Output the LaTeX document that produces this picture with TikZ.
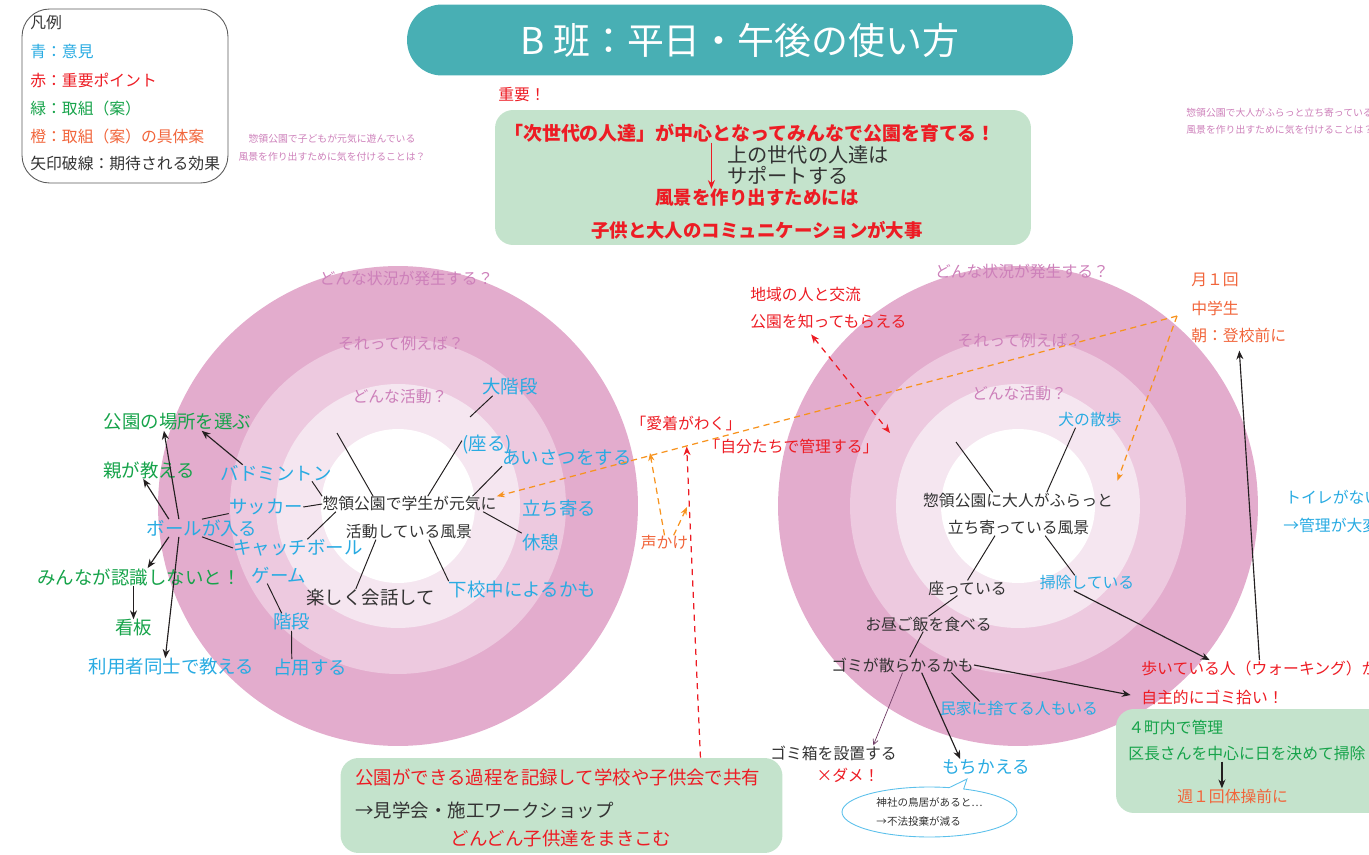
\documentclass[tikz,border=0pt]{standalone}
\usepackage{fontspec}
\setmainfont{Noto Sans CJK JP}
\usetikzlibrary{arrows.meta,shapes.callouts}

\definecolor{jblue}{RGB}{41,171,226}
\definecolor{jred}{RGB}{237,28,36}
\definecolor{jgreen}{RGB}{22,163,74}
\definecolor{jorange}{RGB}{241,101,59}
\definecolor{jdash}{RGB}{247,147,30}
\definecolor{jdark}{RGB}{51,51,51}
\definecolor{jpink}{RGB}{205,128,186}
\definecolor{jteal}{RGB}{72,175,180}
\definecolor{jbox}{RGB}{196,227,204}
\definecolor{ringA}{RGB}{227,172,205}
\definecolor{ringB}{RGB}{237,201,223}
\definecolor{ringC}{RGB}{245,230,240}
\definecolor{jline}{RGB}{35,31,32}
\definecolor{jplum}{RGB}{110,60,100}
\definecolor{jcall}{RGB}{91,192,235}
\definecolor{jgray}{RGB}{90,90,90}

\begin{document}
\begin{tikzpicture}[x=0.02cm, y=-0.02cm,
    nt/.style={inner sep=0pt, text=jdark, font=\fontsize{9}{11}\selectfont},
    bt/.style={inner sep=0pt, text=jdark, font=\fontsize{10.5}{13}\selectfont},
    sm/.style={inner sep=0pt, text=jpink, font=\fontsize{5.6}{7}\selectfont},
    pk/.style={inner sep=0pt, text=jpink, font=\fontsize{9}{11}\selectfont},
    spoke/.style={color=jline, line width=0.55pt},
    arr/.style={color=jline, line width=0.65pt, -{Stealth[length=5pt,width=4pt]}},
    parr/.style={color=jplum, line width=0.4pt, -{Straight Barb[length=3pt,width=3pt]}},
    odash/.style={color=jdash, line width=0.7pt, dash pattern=on 3.5pt off 2.5pt, -{Stealth[length=4.5pt,width=3.5pt]}},
    rdash/.style={color=jred, line width=0.7pt, dash pattern=on 3.5pt off 3pt, -{Stealth[length=5pt,width=4pt]}},
    gbox/.style={fill=jbox, rounded corners=0.36cm}
  ]
        \useasboundingbox (0,0) rectangle (1369,855);
        \clip (0,0) rectangle (1369,855);

        \foreach \cx in {398,1018} {
          \fill[ringA] (\cx,506) circle (4.8cm);
          \fill[ringB] (\cx,506) circle (3.36cm);
          \fill[ringC] (\cx,506) circle (2.44cm);
          \fill[white] (\cx,506) circle (1.54cm);
        }

        \node[fill=jteal, rounded corners=0.7cm, minimum width=13.32cm, minimum height=1.42cm, text=white, font=\fontsize{21}{24}\selectfont] at (740,40) (title) {B 班：平日・午後の使い方};

        \node[draw=jgray, line width=0.5pt, rounded corners=0.55cm, minimum width=4.12cm, minimum height=3.48cm] at (125,96) (legend) {};
        \node[nt, anchor=west]              at (30,23)  (lg0) {凡例};
        \node[nt, anchor=west, text=jblue]  at (30,52)  (lg1) {青：意見};
        \node[nt, anchor=west, text=jred]   at (30,80)  (lg2) {赤：重要ポイント};
        \node[nt, anchor=west, text=jgreen] at (30,108) (lg3) {緑：取組（案）};
        \node[nt, anchor=west, text=jorange] at (30,136) (lg4) {橙：取組（案）の具体案};
        \node[nt, anchor=west]              at (30,163) (lg5) {矢印破線：期待される効果};

        \node[sm]               at (332,139)  (noteL1) {惣領公園で子どもが元気に遊んでいる};
        \node[sm]               at (332,157)  (noteL2) {風景を作り出すために気を付けることは？};
        \node[sm, anchor=west]  at (1186,113) (noteR1) {惣領公園で大人がふらっと立ち寄っている};
        \node[sm, anchor=west]  at (1186,130) (noteR2) {風景を作り出すために気を付けることは？};

        \node[nt, text=jred, anchor=west] at (498,95) (juyo) {重要！};
        \node[gbox, minimum width=10.72cm, minimum height=2.7cm] at (763,177.5) (topbox) {};
        \node[bt, text=jred, font=\fontsize{10.8}{13}\selectfont\bfseries] at (750,133) (t1) {「次世代の人達」が中心となってみんなで公園を育てる！};
        \node[bt, anchor=west, font=\fontsize{11.5}{14}\selectfont] at (727,155) (t2) {上の世代の人達は};
        \node[bt, anchor=west, font=\fontsize{11.5}{14}\selectfont] at (727,175) (t3) {サポートする};
        \node[bt, text=jred, font=\fontsize{10.5}{13}\selectfont\bfseries] at (757,198) (t4) {風景を作り出すためには};
        \node[bt, text=jred, font=\fontsize{10.5}{13}\selectfont\bfseries] at (757,230) (t5) {子供と大人のコミュニケーションが大事};
        \draw[color=jred, line width=0.8pt, -{Stealth[length=5pt,width=4pt]}] (t1.194) -- (t1.194 |- t4.north);

        \node[pk] at (406.5,278)  (q1L) {どんな状況が発生する？};
        \node[pk] at (401,344)    (q2L) {それって例えば？};
        \node[pk] at (400,397)    (q3L) {どんな活動？};
        \node[pk] at (1022,271)   (q1R) {どんな状況が発生する？};
        \node[pk] at (1020.5,341) (q2R) {それって例えば？};
        \node[pk] at (1019.5,394) (q3R) {どんな活動？};

        \node[nt]               at (409.5,504) (ctrLa)   {惣領公園で学生が元気に};
        \node[nt]               at (409,532)   (ctrLb)   {活動している風景};
        \node[bt, text=jblue]   at (510,387)   (daikai)  {大階段};
        \node[bt, text=jblue]   at (487,445)   (suwaru)  {(座る)};
        \node[bt, text=jblue]   at (567,458)   (aisatsu) {あいさつをする};
        \node[bt, text=jblue]   at (559,508)   (tachi)   {立ち寄る};
        \node[bt, text=jblue]   at (540.5,542) (kyukei)  {休憩};
        \node[bt, text=jblue]   at (522.5,590) (gekou)   {下校中によるかも};
        \node[bt]               at (370.5,598) (tanoshi) {楽しく会話して};
        \node[bt, text=jblue]   at (276,473)   (badmin)  {バドミントン};
        \node[bt, text=jblue]   at (266,507)   (soccer)  {サッカー};
        \node[bt, text=jblue]   at (298,548)   (catch)   {キャッチボール};
        \node[bt, text=jblue]   at (279,575)   (game)    {ゲーム};
        \node[bt, text=jblue]   at (291.5,622) (kaidan)  {階段};
        \node[bt, text=jblue]   at (310,668)   (senyo)   {占用する};
        \node[bt, text=jblue]   at (202,528)   (ball)    {ボールが入る};
        \node[bt, text=jgreen]  at (177.5,422) (basho)   {公園の場所を選ぶ};
        \node[bt, text=jgreen]  at (149,470)   (oya)     {親が教える};
        \node[bt, text=jgreen]  at (139,577)   (minna)   {みんなが認識しないと！};
        \node[bt, text=jgreen]  at (133.5,628) (kanban)  {看板};
        \node[bt, text=jblue]   at (171.5,667) (riyou)   {利用者同士で教える};

        \coordinate (dangL) at (337,433);
        \coordinate (dkL)   at (470,417);
        \draw[spoke] (ctrLa.168) edge node {} (dangL);
        \draw[spoke] (ctrLa.23) edge node {} (suwaru.170);
        \draw[spoke] (daikai.207) edge node {} (dkL);
        \draw[spoke] (ctrLa.7) edge node {} (aisatsu.south west);
        \draw[spoke] (ctrLa.354) edge node {} (kyukei.north west);
        \draw[spoke] (ctrLb.339) edge node {} (gekou.north west);
        \draw[spoke] (ctrLb.193) edge node {} (tanoshi.149);
        \draw[spoke] (badmin.347) edge node {} (ctrLa.north west);
        \draw[spoke] (soccer.east) edge node {} (ctrLa.west);
        \draw[spoke] (catch.43) edge node {} (ctrLa.186);
        \draw[spoke] (game.216) edge node {} (kaidan.138);
        \draw[spoke] (kaidan.south) edge node {} (senyo.154);
        \draw[spoke] (soccer.190) edge node {} (ball.north);
        \draw[spoke] (catch.west) edge node {} (ball.south);

        \draw[arr] (ball.159) -- (basho.213);
        \draw[arr] (ball.165) -- (oya.237);
        \draw[arr] (ball.195) -- (minna.46);
        \draw[arr] (ball.201) -- (riyou.125);
        \draw[arr] (badmin.166) -- (basho.340);
        \draw[arr] (minna.south -| kanban.north) -- (kanban.north);

        \node[nt]               at (1018,500)   (ctrRa)    {惣領公園に大人がふらっと};
        \node[nt]               at (1018.5,528) (ctrRb)    {立ち寄っている風景};
        \node[nt, text=jblue]   at (1090,420)   (inu)      {犬の散歩};
        \node[nt]               at (967.5,588)  (suwatte)  {座っている};
        \node[nt, text=jblue]   at (1087,583)   (souji)    {掃除している};
        \node[nt]               at (928.5,624)  (hiru)     {お昼ご飯を食べる};
        \node[nt]               at (902.5,665)  (gomi)     {ゴミが散らかるかも};
        \node[nt]               at (833.5,753)  (gomibako) {ゴミ箱を設置する};
        \node[nt, text=jred]    at (848,775)    (dame)     {×ダメ！};
        \node[nt, text=jblue, font=\fontsize{10}{12}\selectfont] at (986,767) (mochi) {もちかえる};
        \node[nt, text=jblue]   at (1019,709)   (minka)    {民家に捨てる人もいる};
        \node[nt, text=jred, anchor=west]  at (1141,668) (aruku)  {歩いている人（ウォーキング）が};
        \node[nt, text=jred, anchor=west]  at (1141,697) (jishu)  {自主的にゴミ拾い！};
        \node[nt, text=jblue, anchor=west] at (1285,497) (toilet) {トイレがない};
        \node[nt, text=jblue, anchor=west] at (1283,525) (kanri)  {→管理が大変};

        \node[nt, text=jorange, anchor=west] at (1191,280) (tsuki)   {月１回};
        \node[nt, text=jorange, anchor=west] at (1191,308) (chugaku) {中学生};
        \node[nt, text=jorange, anchor=west] at (1191,335) (asa)     {朝：登校前に};

        \node[gbox, minimum width=5.68cm, minimum height=2.08cm] at (1258,761) (boxR) {};
        \node[nt, text=jgreen, anchor=west]  at (1128,727) (r1) {４町内で管理};
        \node[nt, text=jgreen, anchor=west]  at (1128,754) (r2) {区長さんを中心に日を決めて掃除};
        \node[nt, text=jorange, anchor=west] at (1177,796) (r3) {週１回体操前に};
        \draw[arr] (r2.197) -- (r2.197 |- r3.north);

        \coordinate (dangR) at (956,442);
        \draw[spoke] (ctrRa.163) edge node {} (dangR);
        \draw[spoke] (inu.208) edge node {} (ctrRa.15);
        \draw[spoke] (ctrRb.198) edge node {} (suwatte.north);
        \draw[spoke] (ctrRb.344) edge node {} (souji.148);
        \draw[spoke] (suwatte.217) edge node {} (hiru.north);
        \draw[spoke] (hiru.235) edge node {} (gomi.47);
        \draw[spoke] (gomi.351) edge node {} (minka.169);
        \draw[parr] (gomi.south) -- (gomibako.11);
        \draw[arr] (gomi.338) -- (mochi.163);
        \draw[arr, shorten >=6pt] (gomi.east) -- (jishu.west);
        \draw[arr] (souji.210) -- (aruku.171);
        \draw[arr, shorten >=4.5pt] (aruku.north) -- (asa.south);

        \coordinate (tail) at (967,779);
        \node[ellipse callout, draw=jcall, line width=0.5pt, minimum width=3.5cm, minimum height=1cm, callout absolute pointer={(tail)}, callout pointer arc=10, align=left, inner sep=0pt, text=jdark, font=\fontsize{6}{11.3}\selectfont] at (929.5,812) (bubble) {神社の鳥居があると…\\→不法投棄が減る};

        \node[nt, text=jred]    at (686,423)   (aichaku) {「愛着がわく」};
        \node[nt, text=jred]    at (791.5,446) (jibun)   {「自分たちで管理する」};
        \node[nt, text=jred, anchor=west] at (750,295) (chiiki) {地域の人と交流};
        \node[nt, text=jred, anchor=west] at (750,322) (shitte) {公園を知ってもらえる};
        \node[nt, text=jorange] at (664.5,543) (koe)     {声かけ};

        \node[gbox, minimum width=8.84cm, minimum height=1.9cm] at (561.5,805.5) (boxB) {};
        \node[bt, text=jred, anchor=west] at (355,777) (b1) {公園ができる過程を記録して学校や子供会で共有};
        \node[bt, anchor=west]            at (355,810) (b2) {→見学会・施工ワークショップ};
        \node[bt, text=jred]              at (561,839) (b3) {どんどん子供達をまきこむ};

        \coordinate (orgO) at (1177,316);
        \coordinate (hitA) at (650,453);
        \coordinate (hitB) at (687,507);
        \coordinate (tipB) at (890,433);
        \draw[odash] (orgO) -- (ctrLa.north east);
        \draw[odash, shorten >=7pt] (orgO) -- (ctrRa.north east);
        \draw[odash] (koe.north) -- (hitA);
        \draw[odash] (koe.40) -- (hitB);
        \draw[rdash, shorten >=9pt] (boxB.19) -- (aichaku.south);
        \draw[rdash, {Stealth[length=5pt,width=4pt]}-{Stealth[length=5pt,width=4pt]}, shorten <=3.5pt] (shitte.200) -- (tipB);
      \end{tikzpicture}
\end{document}
